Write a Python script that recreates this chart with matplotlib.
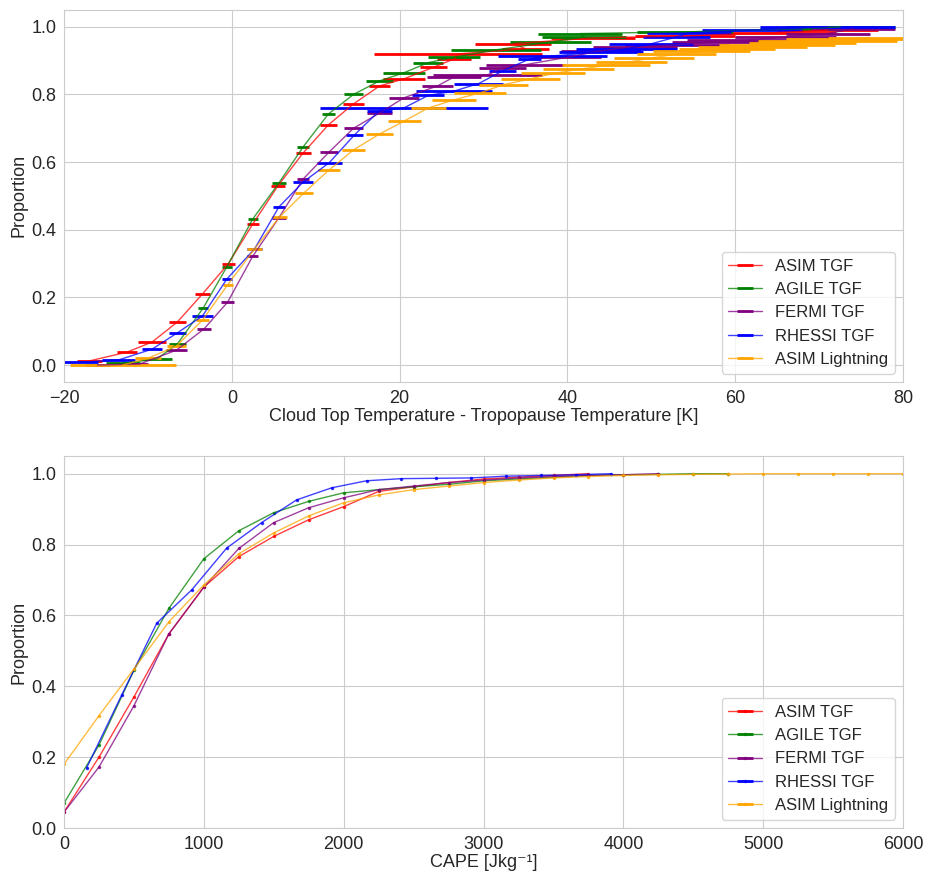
import numpy as np
import matplotlib
matplotlib.use('Agg')
import matplotlib.pyplot as plt
import seaborn as sns

sns.set_style('whitegrid')
plt.rcParams['font.family'] = ['Liberation Sans', 'DejaVu Sans']
plt.rcParams['font.size'] = 13

labels = ['ASIM TGF', 'AGILE TGF', 'FERMI TGF', 'RHESSI TGF', 'ASIM Lightning']
colors = ['red', 'green', 'purple', 'blue', 'orange']

# --- top panel: cloud top temperature - tropopause temperature [K]
# (bin centre, bin half width, cumulative proportion)
asim_t = [(-17, 1.5, 0.012), (-12.5, 1.2, 0.038), (-9.5, 1.7, 0.068), (-6.5, 1.0, 0.127),
          (-3.5, 0.9, 0.21), (-0.4, 0.8, 0.30), (2.5, 0.7, 0.417), (5.5, 0.8, 0.53),
          (8.5, 0.9, 0.627), (11.5, 1.0, 0.71), (14.5, 1.2, 0.772), (17.6, 1.3, 0.825),
          (20.5, 2.5, 0.846), (24, 1.6, 0.88), (26.5, 2.0, 0.905), (27, 10, 0.92),
          (35, 2.8, 0.935), (33.5, 4.5, 0.95), (43, 5, 0.967), (54, 6, 0.973),
          (65, 7, 0.983), (71, 6, 0.99)]
agile_t = [(-13, 2, 0.006), (-9, 1.9, 0.017), (-6.5, 1, 0.062), (-3.4, 0.6, 0.169),
           (-0.6, 0.6, 0.29), (2.5, 0.6, 0.432), (5.6, 0.8, 0.538), (8.5, 0.7, 0.645),
           (11.5, 0.8, 0.742), (14.5, 1.1, 0.80), (17.6, 1.6, 0.84), (20.5, 2.5, 0.864),
           (23.4, 1.8, 0.894), (26.5, 3.1, 0.91), (31.5, 5.4, 0.932), (38, 4.8, 0.955),
           (42, 5, 0.97), (41.5, 5, 0.98), (54, 5.7, 0.985), (68, 5, 0.994), (72.5, 6.5, 1.0)]
fermi_t = [(-16, 1.5, 0.0), (-11, 1, 0.003), (-6.6, 1.3, 0.044), (-3.3, 0.8, 0.107),
           (-0.5, 0.8, 0.186), (2.5, 0.65, 0.322), (5.6, 0.8, 0.435), (8.5, 0.7, 0.55),
           (11.6, 1.1, 0.63), (14.5, 1.1, 0.70), (17.6, 1.5, 0.745), (20.5, 1.8, 0.79),
           (24.5, 1.8, 0.825), (26.5, 3.2, 0.852), (30.5, 6.5, 0.858), (32.3, 2.8, 0.879),
           (35, 4.7, 0.888), (40, 4, 0.91), (44, 4.8, 0.929), (48, 5, 0.94), (53, 6.2, 0.947),
           (58, 5.5, 0.955), (62, 7.7, 0.962), (66, 6, 0.97), (71, 5, 0.98), (74, 5, 0.994)]
rhessi_t = [(-18, 2, 0.008), (-13.5, 2, 0.015), (-9.5, 1.2, 0.047), (-6.5, 1, 0.095),
            (-3.5, 1.2, 0.145), (-0.6, 0.6, 0.254), (2.7, 0.9, 0.343), (5.6, 0.7, 0.467),
            (8.5, 1.2, 0.541), (11.6, 1.5, 0.598), (14.6, 1.0, 0.68), (17.6, 1.5, 0.752),
            (20.5, 10, 0.76), (23.4, 1.9, 0.797), (26.5, 4.5, 0.81), (29.4, 2.9, 0.832),
            (32.3, 1.6, 0.87), (35.5, 1.4, 0.905), (38.2, 6.5, 0.914), (44, 5, 0.925),
            (47, 6, 0.935), (50, 5, 0.95), (53, 4, 0.97), (54.5, 5, 0.982), (62, 6, 0.99),
            (71, 8, 1.0)]
light_t = [(-13, 6.3, 0.0), (-10, 1.5, 0.02), (-6.6, 1.1, 0.056), (-3.5, 0.8, 0.133),
           (-0.5, 0.6, 0.237), (2.7, 0.9, 0.343), (5.7, 0.9, 0.438), (8.6, 1.1, 0.509),
           (11.6, 1.3, 0.577), (14.5, 1.4, 0.636), (17.6, 1.6, 0.683), (20.6, 2, 0.722),
           (23.4, 2.1, 0.76), (26.5, 2.6, 0.784), (29.6, 3.1, 0.805), (32.4, 2.9, 0.829),
           (35.6, 3.5, 0.846), (38.3, 3.8, 0.862), (41.3, 4.2, 0.874), (44.6, 5.2, 0.886),
           (47.6, 4.2, 0.897), (50.3, 4.8, 0.909), (53, 4.7, 0.919), (56, 5.8, 0.927),
           (59, 5.7, 0.935), (62, 6.5, 0.94), (65, 6.9, 0.945), (68, 6.4, 0.952),
           (71, 8.3, 0.957), (73, 7, 0.963), (76, 5, 0.967)]

# --- bottom panel: CAPE [J/kg]
cape_x = [0, 250, 500, 750, 1000, 1250, 1500, 1750, 2000, 2250, 2500, 2750, 3000,
          3250, 3500, 3750, 4000, 4250, 4500, 4750, 5000, 5250, 5500, 5750, 6000]
asim_c = [0.045, 0.2, 0.37, 0.548, 0.68, 0.766, 0.823, 0.87, 0.907, 0.95, 0.963, 0.975,
          0.985, 0.99, 0.995, 1.0]
agile_c = [0.07, 0.234, 0.445, 0.62, 0.76, 0.839, 0.89, 0.922, 0.946, 0.955, 0.963, 0.97,
           0.98, 0.985, 0.99, 0.995, 0.997, 0.998, 1.0, 1.0]
fermi_c = [0.045, 0.172, 0.345, 0.548, 0.68, 0.789, 0.862, 0.904, 0.932, 0.955, 0.965,
           0.975, 0.982, 0.988, 0.992, 0.995, 0.997, 1.0]
rhessi_cx = [162, 412, 663, 913, 1163, 1413, 1663, 1913, 2163, 2413, 2663, 2913, 3163,
             3413, 3663, 3913]
rhessi_c = [0.17, 0.375, 0.578, 0.672, 0.79, 0.862, 0.926, 0.96, 0.98, 0.986, 0.987,
            0.988, 0.993, 0.995, 0.997, 1.0]
light_c = [0.18, 0.317, 0.449, 0.582, 0.686, 0.774, 0.833, 0.881, 0.918, 0.94, 0.955,
           0.965, 0.975, 0.982, 0.988, 0.992, 0.995, 0.997, 0.998, 0.999, 1.0, 1.0, 1.0,
           1.0, 1.0]

fig = plt.figure(figsize=(9.33, 8.74), dpi=100)
ax1 = fig.add_axes([0.0686, 0.563, 0.8994, 0.4257])
ax2 = fig.add_axes([0.0686, 0.0526, 0.8994, 0.4257])

for data, lab, c in zip([asim_t, agile_t, fermi_t, rhessi_t, light_t], labels, colors):
    d = np.array(data)
    eb = ax1.errorbar(d[:, 0], d[:, 2], xerr=d[:, 1], color=c, lw=1, elinewidth=2,
                      capsize=0, label=lab)
    eb[0].set_alpha(0.75)

ax1.set_xlim(-20, 80)
ax1.set_ylim(-0.05, 1.05)
ax1.set_xlabel('Cloud Top Temperature - Tropopause Temperature [K]', labelpad=1)
ax1.set_ylabel('Proportion', labelpad=3)
ax1.legend(loc='lower right', fontsize=12)

bottom = [(cape_x[:len(asim_c)], asim_c), (cape_x[:len(agile_c)], agile_c),
          (cape_x[:len(fermi_c)], fermi_c), (rhessi_cx, rhessi_c), (cape_x, light_c)]
for (xs, ys), lab, c in zip(bottom, labels, colors):
    eb = ax2.errorbar(xs, ys, xerr=np.zeros(len(xs)), color=c, lw=1, elinewidth=2,
                      marker='o', markersize=1.5, capsize=0, label=lab)
    eb[0].set_alpha(0.75)

ax2.set_xlim(0, 6000)
ax2.set_ylim(0, 1.05)
ax2.set_xlabel('CAPE [Jkg\u207b\u00b9]', labelpad=1)
ax2.set_ylabel('Proportion', labelpad=3)
ax2.legend(loc='lower right', fontsize=12)

for ax in (ax1, ax2):
    ax.tick_params(labelsize=13, pad=2)

fig.savefig('out.png', dpi=100)
